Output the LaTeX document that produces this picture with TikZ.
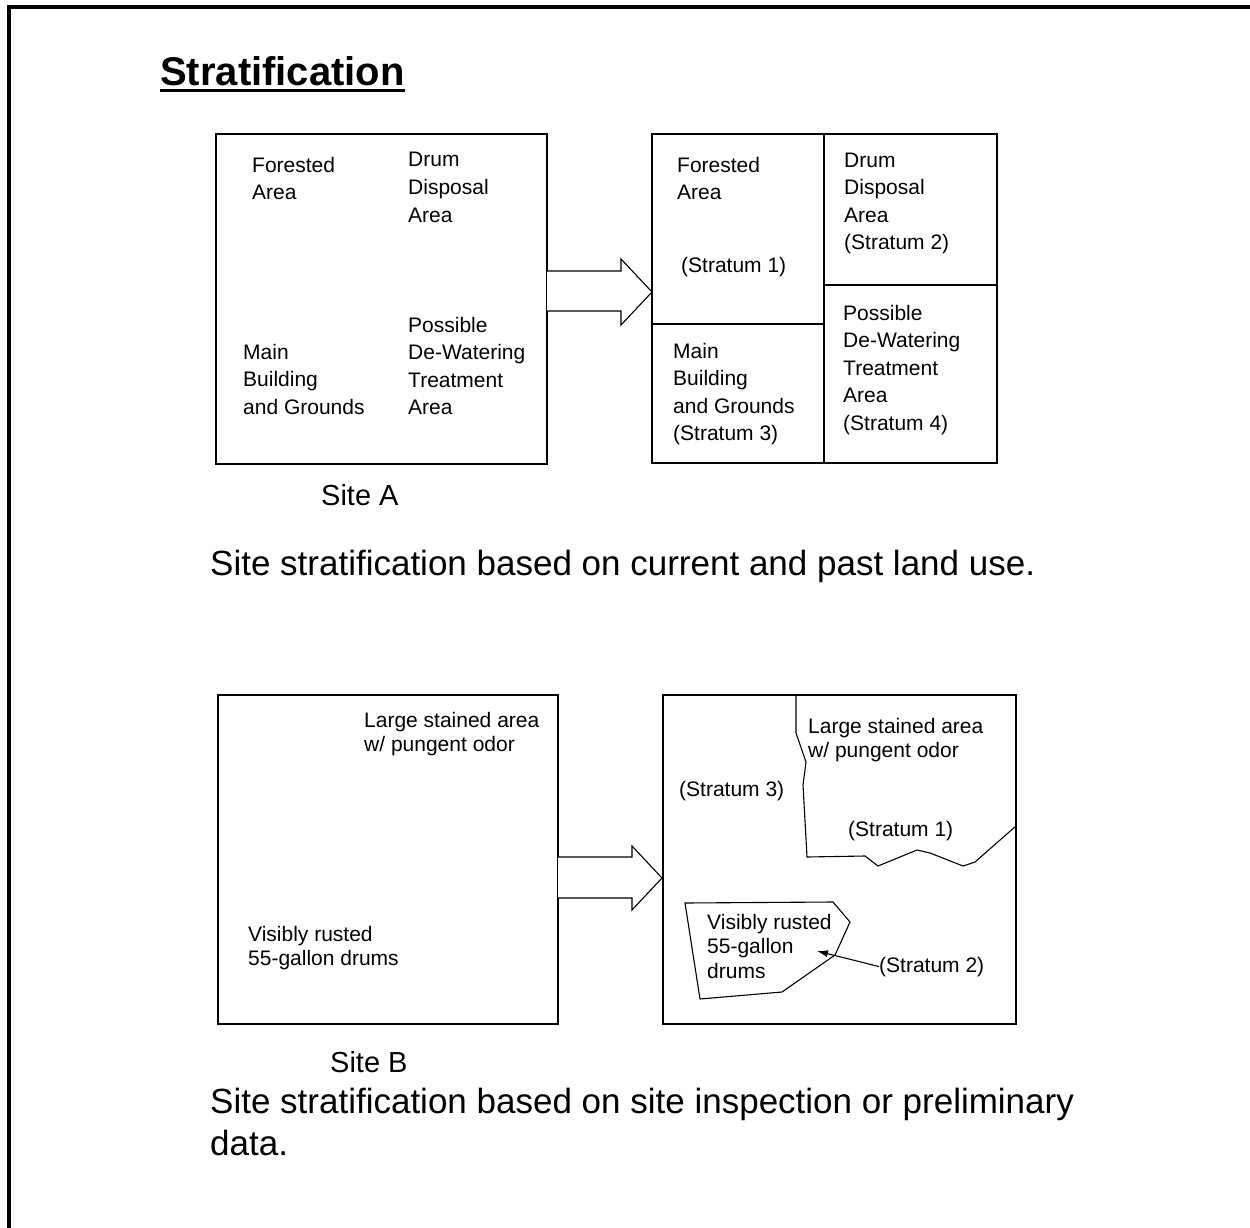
\documentclass[tikz,border=0pt]{standalone}
\usepackage{fontspec}
\setmainfont{Liberation Sans}
\usetikzlibrary{arrows.meta}
\tikzset{
  area/.style={draw, line width=1.3pt},
  edge/.style={draw, line width=1.1pt, line join=miter},
  blockarrow/.style={draw, line width=1.1pt, fill=white},
  % multi-line texts sit on the baseline of their last line
  txt/.style={anchor=base west, inner sep=0pt, align=left, font=\fontsize{21}{27.5}\selectfont},
  txtb/.style={txt, font=\fontsize{21}{24.5}\selectfont},
  sitelbl/.style={anchor=base west, inner sep=0pt, font=\fontsize{29}{34}\selectfont},
  caption/.style={anchor=base west, inner sep=0pt, align=left, font=\fontsize{35}{42}\selectfont}
}
\begin{document}
\begin{tikzpicture}[x=1pt,y=-1pt]
\useasboundingbox (0,0) rectangle (1250,1228);
\clip (0,0) rectangle (1250,1228);
\draw[line width=4pt] (9,1260) -- (9,7) -- (1270,7);

\node[anchor=base west, inner sep=0pt, font=\fontsize{40}{48}\selectfont\bfseries] (title) at (160,86) {Stratification};
\draw[line width=3pt] ([yshift=-5pt]title.base west) -- ([yshift=-5pt]title.base east);

% Site A
\draw[area] (216,134) rectangle (547,464);
\node[txt] (forestA) at (252,199.5) {Forested\\Area};
\node[txt] (drumA) at (408,222) {Drum\\Disposal\\Area};
\node[txt] (mainA) at (243,414) {Main\\Building\\and Grounds};
\node[txt] (dewatA) at (408,414.5) {Possible\\De-Watering\\Treatment\\Area};

\draw[blockarrow] (547,271) -- (621,271) -- (621,259) -- (652,292) -- (621,325) -- (621,311) -- (547,311);

\draw[area] (652,134) rectangle (997,463);
\draw[area] (824,134) -- (824,463);
\draw[area] (652,324) -- (824,324);
\draw[area] (824,285) -- (997,285);
\node[txt] (forestS) at (677,199.5) {Forested\\Area};
\node[txt] (strat1A) at (681,272) {(Stratum 1)};
\node[txt] (drumS) at (844,249.5) {Drum\\Disposal\\Area\\(Stratum 2)};
\node[txt] (mainS) at (673,440.5) {Main\\Building\\and Grounds\\(Stratum 3)};
\node[txt] (dewatS) at (843,430) {Possible\\De-Watering\\Treatment\\Area\\(Stratum 4)};

\node[sitelbl] (siteA) at (321,505) {Site A};
\node[caption] (capA) at (210,575) {Site stratification based on current and past land use.};

% Site B
\draw[area] (218,695) rectangle (558,1024);
\node[txtb] (stainB) at (364,751.5) {Large stained area\\w/ pungent odor};
\node[txtb] (drumsB) at (248,965.5) {Visibly rusted\\55-gallon drums};

\draw[blockarrow] (558,857) -- (632,857) -- (632,846) -- (662,878) -- (632,910) -- (632,898) -- (558,898);

\draw[area] (663,695) rectangle (1016,1024);
\draw[edge] (796,695) -- (796,733) -- (806,762) -- (803,785) -- (807,857) -- (865,856)
   -- (878,866) -- (917,850) -- (930,853) -- (963,866) -- (975,862) -- (1016,826);
\draw[edge] (685,903) -- (833,902) -- (850,922) -- (835,955) -- (782,992) -- (700,999) -- cycle;
\node[txtb] (stainS) at (808,757.5) {Large stained area\\w/ pungent odor};
\node[txtb] (strat3B) at (679,796) {(Stratum 3)};
\node[txtb] (strat1B) at (848,836) {(Stratum 1)};
\node[txtb] (drumsS) at (707,978) {Visibly rusted\\55-gallon\\drums};
\node[txtb] (strat2B) at (879,972) {(Stratum 2)};
\coordinate (drumtip) at (817,951);
\draw[line width=1.1pt, -{Latex[length=11pt,width=7pt]}] (strat2B.west) -- (drumtip);

\node[sitelbl] (siteB) at (330,1072) {Site B};
\node[caption] (capB) at (210,1155) {Site stratification based on site inspection or preliminary\\data.};
\end{tikzpicture}
\end{document}
